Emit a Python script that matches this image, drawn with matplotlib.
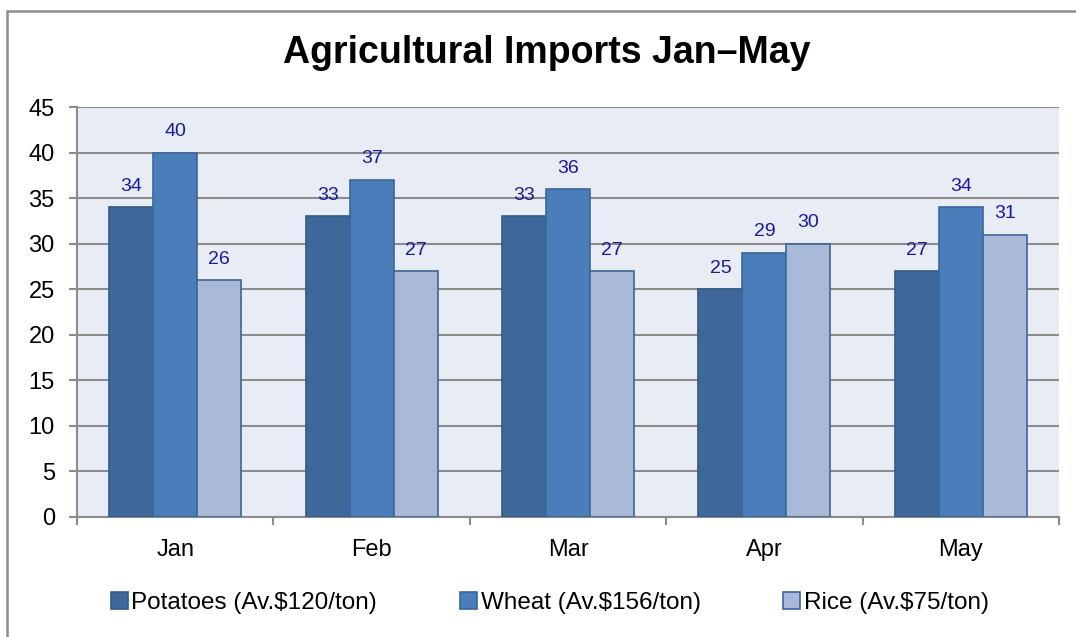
import numpy as np
import matplotlib.pyplot as plt
from matplotlib.patches import Rectangle

plt.rcParams['font.family'] = ['Liberation Sans', 'DejaVu Sans']

# Chart data
months = ['Jan', 'Feb', 'Mar', 'Apr', 'May']
potatoes = [34, 33, 33, 25, 27]
wheat = [40, 37, 36, 29, 34]
rice = [26, 27, 27, 30, 31]
series_labels = ['Potatoes (Av.$120/ton)', 'Wheat (Av.$156/ton)', 'Rice (Av.$75/ton)']
yticks = [0, 5, 10, 15, 20, 25, 30, 35, 40, 45]

fills = ['#3E6899', '#4A7EBB', '#A9B9D8']
edges = ['#345A88', '#3A6699', '#3A6699']
grid_gray = '#8C8C8C'
label_color = '#1A1A9A'

fig = plt.figure(figsize=(10.76, 6.37), dpi=100)
ax = fig.add_axes([0.0716, 0.1884, 0.9126, 0.6436])
ax.set_facecolor('#E8ECF4')

x = np.arange(len(months))
width = 0.224
for i, (vals, lab) in enumerate(zip([potatoes, wheat, rice], series_labels)):
    pos = x + (i - 1) * width
    bars = ax.bar(pos, vals, width, color=fills[i], edgecolor=edges[i],
                  linewidth=1.2, label=lab, zorder=3)
    for b, v in zip(bars, vals):
        ax.annotate(str(v), (b.get_x() + b.get_width() / 2, v),
                    xytext=(0, 9), textcoords='offset points',
                    ha='center', va='bottom', fontsize=14, color=label_color)

ax.set_xlim(-0.5, len(months) - 0.5)
ax.set_ylim(0, 45)
ax.set_yticks(yticks)
ax.yaxis.grid(True, color=grid_gray, linewidth=1.5, zorder=0)
ax.set_axisbelow(True)

ax.set_xticks(x)
ax.set_xticklabels(months, fontsize=17)
ax.set_xticks(np.arange(-0.5, len(months), 1.0), minor=True)
ax.tick_params(axis='x', which='major', length=0, pad=16)
ax.tick_params(axis='x', which='minor', length=6, width=1.5, color=grid_gray)
ax.tick_params(axis='y', labelsize=17, length=6, width=1.5, color=grid_gray, pad=10)

for side in ['top', 'right']:
    ax.spines[side].set_visible(False)
for side in ['left', 'bottom']:
    ax.spines[side].set_color(grid_gray)
    ax.spines[side].set_linewidth(1.5)

fig.text(0.508, 0.917, 'Agricultural Imports Jan\u2013May', ha='center', va='center',
         fontsize=27, fontweight='bold')

fig.legend(loc='center', bbox_to_anchor=(0.511, 0.053), ncol=3, frameon=False,
           fontsize=17.5, handlelength=0.7, handleheight=0.7, handletextpad=0.15,
           columnspacing=3.4)

# outer chart border (only left and top visible in the crop)
fig.patches.append(Rectangle((6.5 / 1076, -0.1), 2, 1.1 - 11 / 637,
                             transform=fig.transFigure, fill=False,
                             edgecolor='#8C8C8C', linewidth=1.8))

plt.savefig('out.png', dpi=100)
